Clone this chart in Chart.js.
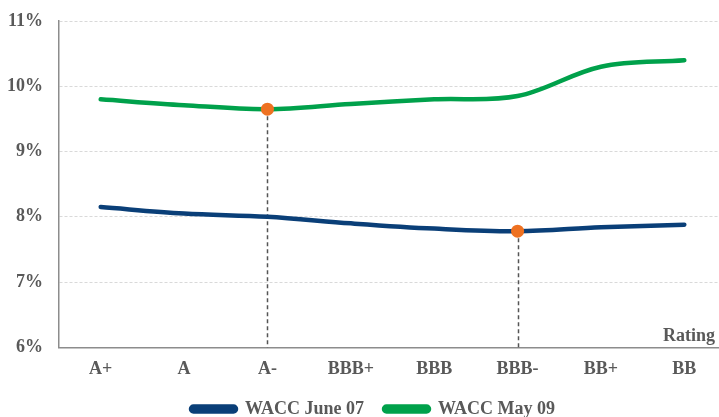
<!DOCTYPE html>
<html>
<head>
<meta charset="utf-8">
<script src="https://cdn.jsdelivr.net/npm/chart.js@4.4.1/dist/chart.umd.min.js"></script>
<style>
  html, body { margin: 0; padding: 0; background: #fff; overflow: hidden; }
  #wrap { width: 750px; height: 439px; }
</style>
</head>
<body>
<div id="wrap"><canvas id="c" width="750" height="439"></canvas></div>
<script>
const categories = ['A+', 'A', 'A-', 'BBB+', 'BBB', 'BBB-', 'BB+', 'BB'];
const waccJune07 = [8.15, 8.05, 8.00, 7.90, 7.82, 7.78, 7.84, 7.88];
const waccMay09 = [9.80, 9.71, 9.65, 9.73, 9.80, 9.85, 10.30, 10.40];
const yTicks = [6, 7, 8, 9, 10, 11];
const seriesNames = ['WACC June 07', 'WACC May 09'];
const highlightJune07 = 5; // BBB-
const highlightMay09 = 2;  // A-
const axisTitle = 'Rating';

const FONT = '"Liberation Serif", "Times New Roman", serif';
const TEXT = '#595959';
const BLUE = '#0A3F78';
const GREEN = '#00A14B';
const ORANGE = '#EE7121';

const dropLines = {
  id: 'dropLines',
  afterLayout(chart) {
    // nudge the legend row closer to the category labels
    if (chart.legend) {
      chart.legend.top -= 11;
      chart.legend.bottom -= 11;
      chart.legend.left += 10;
      chart.legend.right += 10;
    }
  },
  beforeDatasetsDraw(chart) {
    const ctx = chart.ctx;
    const bottom = chart.chartArea.bottom;
    const marks = [[0, highlightJune07], [1, highlightMay09]];
    ctx.save();
    ctx.strokeStyle = '#555555';
    ctx.lineWidth = 1.5;
    ctx.setLineDash([4, 3]);
    marks.forEach(([ds, idx]) => {
      const pt = chart.getDatasetMeta(ds).data[idx];
      ctx.beginPath();
      ctx.moveTo(Math.round(pt.x) + 0.5, pt.y);
      ctx.lineTo(Math.round(pt.x) + 0.5, bottom);
      ctx.stroke();
    });
    ctx.restore();
  },
  afterDraw(chart) {
    const ctx = chart.ctx;
    const area = chart.chartArea;
    ctx.save();
    ctx.font = 'bold 18px ' + FONT;
    ctx.fillStyle = TEXT;
    ctx.textAlign = 'right';
    ctx.textBaseline = 'alphabetic';
    ctx.fillText(axisTitle, 715, area.bottom - 6);
    ctx.restore();
  }
};

function hl(idx) {
  return c => (c.dataIndex === idx ? 6.5 : 0);
}

new Chart(document.getElementById('c'), {
  type: 'line',
  data: {
    labels: categories,
    datasets: [
      {
        label: seriesNames[0],
        data: waccJune07,
        borderColor: BLUE,
        backgroundColor: BLUE,
        borderWidth: 4.5,
        tension: 0.35,
        borderCapStyle: 'round',
        pointRadius: hl(highlightJune07),
        pointHoverRadius: hl(highlightJune07),
        pointBackgroundColor: ORANGE,
        pointBorderColor: ORANGE,
        pointBorderWidth: 0
      },
      {
        label: seriesNames[1],
        data: waccMay09,
        borderColor: GREEN,
        backgroundColor: GREEN,
        borderWidth: 4.5,
        tension: 0.35,
        borderCapStyle: 'round',
        pointRadius: hl(highlightMay09),
        pointHoverRadius: hl(highlightMay09),
        pointBackgroundColor: ORANGE,
        pointBorderColor: ORANGE,
        pointBorderWidth: 0
      }
    ]
  },
  options: {
    responsive: false,
    animation: false,
    layout: { padding: { top: 21, right: 24, bottom: 0, left: 0 } },
    plugins: {
      tooltip: { enabled: false },
      legend: {
        position: 'bottom',
        labels: {
          font: { family: FONT, size: 18, weight: 'bold' },
          color: TEXT,
          boxWidth: 45,
          boxHeight: 5,
          padding: 20,
          useBorderRadius: true,
          borderRadius: 2.5
        }
      }
    },
    scales: {
      x: {
        offset: true,
        grid: { display: false, drawTicks: false },
        border: { display: true, color: '#8C8C8C', width: 1.5 },
        ticks: {
          font: { family: FONT, size: 18, weight: 'bold' },
          color: TEXT,
          padding: 11,
          maxRotation: 0,
          autoSkip: false
        }
      },
      y: {
        min: 6,
        max: 11,
        afterBuildTicks: s => { s.ticks = yTicks.map(v => ({ value: v })); },
        afterFit: s => { s.width = 59; s.paddingTop = 0; s.paddingBottom = 0; },
        grid: { color: '#D9D9D9', lineWidth: 1, drawTicks: false },
        border: { display: true, color: '#8C8C8C', width: 1.5, dash: [3, 2] },
        ticks: {
          font: { family: FONT, size: 18, weight: 'bold' },
          color: TEXT,
          padding: 16,
          callback: v => v + '%'
        }
      }
    }
  },
  plugins: [dropLines]
});
</script>
</body>
</html>
